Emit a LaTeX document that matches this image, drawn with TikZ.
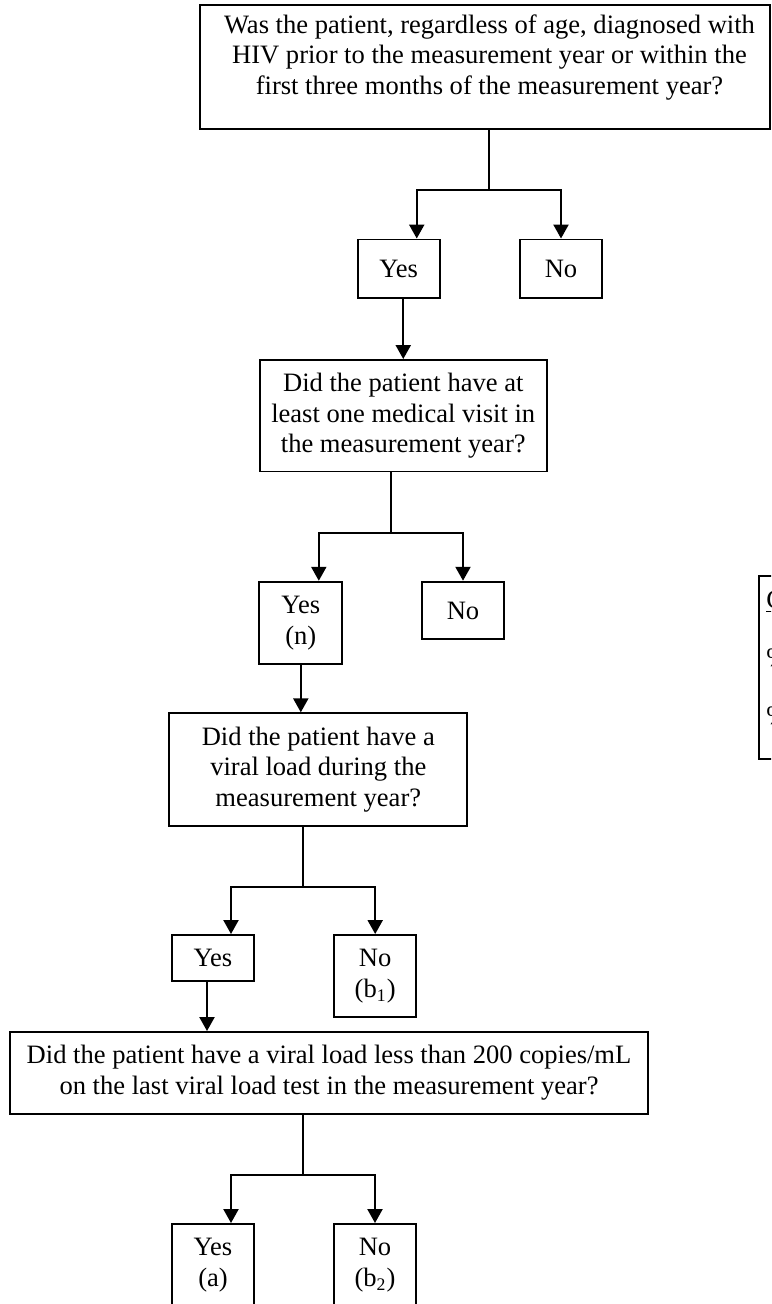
\documentclass[tikz,border=0pt]{standalone}
\usepackage{fontspec}
\setmainfont{Liberation Serif}
\usetikzlibrary{arrows.meta}
\newcommand{\pxu}{0.452pt}
\tikzset{
    % question and answer boxes
    qbox/.style 2 args={
        rectangle,
        draw=black,
        line width=0.9pt,
        minimum width=#1*\pxu,
        minimum height=#2*\pxu,
        inner sep=0pt,
        align=center
    },
    qtext/.style={align=center, inner sep=0pt},
    % connectors
    link/.style={line width=0.9pt, draw=black},
    arrow/.style={link, -{Triangle[width=6.8pt, length=6.3pt]}}
}
\begin{document}
\begin{tikzpicture}[x=\pxu, y=-\pxu, every node/.style={font=\fontsize{12}{13.8}\selectfont}]
    \useasboundingbox (0,0) rectangle (771,1304);
    \clip (0,0) rectangle (771,1304);

    % Questions and answers
    \node[qbox={570}{124}] (q1) at (485,67.3) {};
    \node[qtext] (q1text) at (489.5,57.5) {Was the patient, regardless of age, diagnosed with\\HIV prior to the measurement year or within the\\first three months of the measurement year?};
    \node[qbox={82.5}{58.5}] (yes1) at (398.75,268.75) {Yes};
    \node[qbox={82}{58.5}] (no1) at (561,268.75) {No};

    \node[qbox={286.5}{111.5}] (q2) at (403.25,415.75) {Did the patient have at\\least one medical visit in\\the measurement year?};
    \node[qbox={83}{82.3}] (yesn) at (300.8,622.9) {Yes\\(n)};
    \node[qbox={82.6}{57.6}] (non) at (463,610.5) {No};

    \node[qbox={298}{112.4}] (q3) at (318.3,769.5) {Did the patient have a\\viral load during the\\measurement year?};
    \node[qbox={82}{46}] (yes3) at (213,958) {Yes};
    \node[qbox={81.7}{82}] (nob1) at (375.2,976) {No\\(b\textsubscript{1})};

    \node[qbox={638}{81.5}] (q4) at (329,1072.75) {Did the patient have a viral load less than 200 copies/mL\\on the last viral load test in the measurement year?};
    \node[qbox={82}{82}] (yesa) at (213,1265) {Yes\\(a)};
    \node[qbox={82}{82}] (nob2) at (375,1265) {No\\(b\textsubscript{2})};

    % Side box (cut off at the right)
    \node[qbox={200}{183.4}, anchor=north west] (calcbox) at (757.6,574.6) {};
    \node[anchor=north west, align=left, inner sep=0pt] (calctext) at (766,590) {\underline{C}\\[12.6pt]\%\\[12.6pt]\%};

    % Branches
    \coordinate (s1) at (489,190);
    \draw[link] (q1.south -| s1) -- (s1);
    \draw[arrow] (s1) -| ([xshift=18*\pxu]yes1.north);
    \draw[arrow] (s1) -| (no1.north);
    \draw[arrow] (q2.north |- yes1.south) -- (q2.north);

    \coordinate (s2) at (391,533);
    \draw[link] (q2.south -| s2) -- (s2);
    \draw[arrow] (s2) -| ([xshift=18*\pxu]yesn.north);
    \draw[arrow] (s2) -| (non.north);
    \draw[arrow] (yesn.south) -- (yesn.south |- q3.north);

    \coordinate (s3) at (302.7,886.7);
    \draw[link] (q3.south -| s3) -- (s3);
    \draw[arrow] (s3) -| ([xshift=18*\pxu]yes3.north);
    \draw[arrow] (s3) -| (nob1.north);
    \coordinate (y3out) at ([xshift=-6*\pxu]yes3.south);
    \draw[arrow] (y3out) -- (y3out |- q4.north);

    \coordinate (s4) at (303,1175);
    \draw[link] (q4.south -| s4) -- (s4);
    \draw[arrow] (s4) -| ([xshift=18*\pxu]yesa.north);
    \draw[arrow] (s4) -| (nob2.north);
\end{tikzpicture}
\end{document}
